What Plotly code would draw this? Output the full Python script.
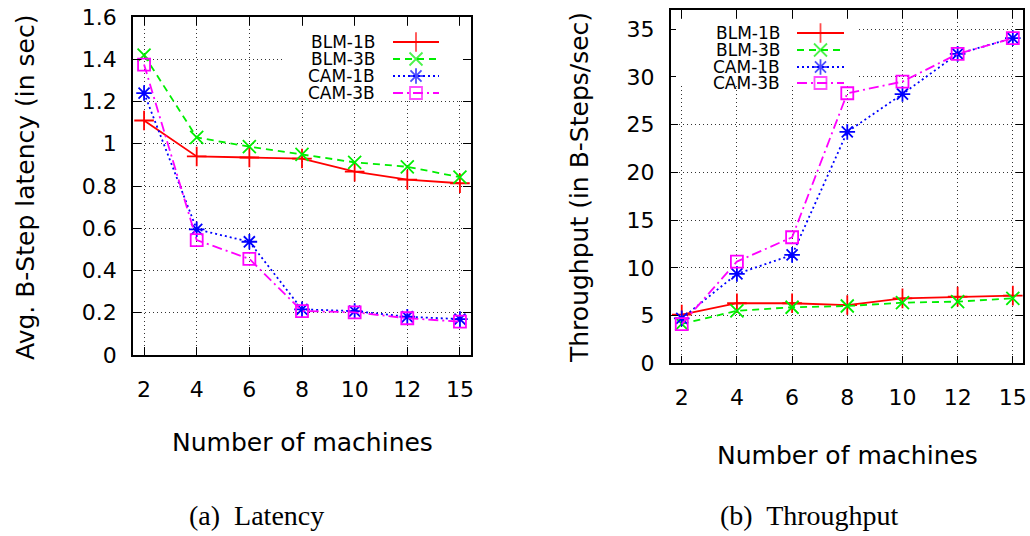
import plotly.graph_objects as go

# ---------------- data ----------------
machines = ["2", "4", "6", "8", "10", "12", "15"]
series_names = ["BLM-1B", "BLM-3B", "CAM-1B", "CAM-3B"]

latency_blm_1b = [1.11, 0.94, 0.935, 0.93, 0.868, 0.83, 0.813]
latency_blm_3b = [1.42, 1.03, 0.986, 0.95, 0.912, 0.891, 0.842]
latency_cam_1b = [1.24, 0.595, 0.536, 0.216, 0.208, 0.181, 0.170]
latency_cam_3b = [1.375, 0.544, 0.455, 0.208, 0.202, 0.174, 0.158]

thr_blm_1b = [5.1, 6.29, 6.29, 6.1, 6.8, 6.98, 7.09]
thr_blm_3b = [4.12, 5.5, 5.87, 6.0, 6.35, 6.46, 6.81]
thr_cam_1b = [4.7, 9.36, 11.35, 24.24, 28.2, 32.4, 34.05]
thr_cam_3b = [4.1, 10.65, 13.2, 28.28, 29.5, 32.4, 34.05]

latency_ticks = [0, 0.2, 0.4, 0.6, 0.8, 1, 1.2, 1.4, 1.6]
throughput_ticks = [0, 5, 10, 15, 20, 25, 30, 35]

# ---------------- styles ----------------
W, H = 1030, 536
FONT = "DejaVu Sans"
colors = ["#ff0000", "#00ee00", "#0000ff", "#ff00ff"]
dashes = ["solid", "7px,5px", "2px,3px", "10px,4px,2px,4px"]
symbols = ["cross-thin-open", "x-thin-open", "asterisk-open", "square-open"]
msizes = [14, 13, 13, 12]
LW = 1.8


def px(x):
    return x / W


def py(y):
    return 1 - y / H


fig = go.Figure()

lat_series = [latency_blm_1b, latency_blm_3b, latency_cam_1b, latency_cam_3b]
thr_series = [thr_blm_1b, thr_blm_3b, thr_cam_1b, thr_cam_3b]

for i, name in enumerate(series_names):
    style = dict(
        mode="lines+markers",
        line=dict(color=colors[i], width=LW, dash=dashes[i]),
        marker=dict(symbol=symbols[i], size=msizes[i], color=colors[i],
                    line=dict(color=colors[i], width=LW)),
        showlegend=False,
        name=name,
    )
    fig.add_trace(go.Scatter(x=machines, y=lat_series[i], xaxis="x", yaxis="y", **style))
    fig.add_trace(go.Scatter(x=machines, y=thr_series[i], xaxis="x2", yaxis="y2", **style))

# ---------------- custom gnuplot-style keys (pixel overlay subplot) ----------------
key_boxes = [(282, 26, 462, 101), (676, 21, 858, 86)]
key_text_right = [377, 782]
key_line = [(393, 439), (797, 844)]
key_rows = [[42, 59, 76, 93], [33, 50, 67, 83]]

for k in range(2):
    x0, y0, x1, y1 = key_boxes[k]
    fig.add_trace(go.Scatter(
        x=[x0, x1, x1, x0, x0], y=[y0, y0, y1, y1, y0], xaxis="x3", yaxis="y3",
        mode="lines", fill="toself", fillcolor="white", line=dict(width=0, color="white"),
        hoverinfo="skip", showlegend=False))
    la, lb = key_line[k]
    for i, name in enumerate(series_names):
        yy = key_rows[k][i]
        fig.add_trace(go.Scatter(
            x=[la, (la + lb) / 2, lb], y=[yy, yy, yy], xaxis="x3", yaxis="y3",
            mode="lines+markers",
            line=dict(color=colors[i], width=LW, dash=dashes[i]),
            marker=dict(symbol=symbols[i], size=[0, msizes[i], 0], color=colors[i],
                        line=dict(color=colors[i], width=LW)),
            hoverinfo="skip", showlegend=False))
        fig.add_annotation(x=px(key_text_right[k]), y=py(yy), xref="paper", yref="paper",
                           text=name, showarrow=False, xanchor="right", yanchor="middle",
                           font=dict(family=FONT, size=17, color="black"))

# ---------------- axes ----------------
axis_common = dict(
    showline=True, linecolor="black", linewidth=1.5, mirror="allticks",
    ticks="inside", ticklen=8, tickwidth=1.3, tickcolor="black",
    showgrid=True, gridcolor="#333333", gridwidth=1, griddash="1px,3px",
    zeroline=False, tickfont=dict(family=FONT, size=22, color="black"),
    fixedrange=True,
)

fig.update_layout(
    width=W, height=H, autosize=False,
    margin=dict(l=0, r=0, t=0, b=0, pad=0, autoexpand=False),
    paper_bgcolor="white", plot_bgcolor="rgba(0,0,0,0)",
    showlegend=False,
    xaxis=dict(domain=[px(133), px(471)], anchor="y", type="category",
               range=[-0.21, 6.21], ticklabelstandoff=14, **axis_common),
    yaxis=dict(domain=[py(355), py(17)], anchor="x", range=[0, 1.6],
               tickvals=latency_ticks, ticktext=[f"{v:g}" for v in latency_ticks],
               ticklabelstandoff=10, **axis_common),
    xaxis2=dict(domain=[px(670.7), px(1023.3)], anchor="y2", type="category",
                range=[-0.2, 6.19], ticklabelstandoff=14, **axis_common),
    yaxis2=dict(domain=[py(363.3), py(10)], anchor="x2", range=[0, 37],
                tickvals=throughput_ticks, ticklabelstandoff=10, **axis_common),
    xaxis3=dict(domain=[0, 1], anchor="y3", range=[0, W], visible=False, fixedrange=True),
    yaxis3=dict(domain=[0, 1], anchor="x3", range=[H, 0], visible=False, fixedrange=True),
)

# ---------------- titles & captions ----------------
title_font = dict(family=FONT, size=25, color="black")
fig.add_annotation(x=px(302), y=py(442), xref="paper", yref="paper", text="Number of machines",
                   showarrow=False, xanchor="center", yanchor="middle", font=title_font)
fig.add_annotation(x=px(847), y=py(455), xref="paper", yref="paper", text="Number of machines",
                   showarrow=False, xanchor="center", yanchor="middle", font=title_font)
fig.add_annotation(x=px(25), y=py(188), xref="paper", yref="paper",
                   text="Avg. B-Step latency (in sec)", textangle=-90,
                   showarrow=False, xanchor="center", yanchor="middle", font=title_font)
fig.add_annotation(x=px(579), y=py(188), xref="paper", yref="paper",
                   text="Throughput (in B-Steps/sec)", textangle=-90,
                   showarrow=False, xanchor="center", yanchor="middle", font=title_font)

cap_font = dict(family="Liberation Serif", size=28, color="black")
fig.add_annotation(x=px(256), y=py(515), xref="paper", yref="paper", text="(a)  Latency",
                   showarrow=False, xanchor="center", yanchor="middle", font=cap_font)
fig.add_annotation(x=px(809), y=py(515), xref="paper", yref="paper", text="(b)  Throughput",
                   showarrow=False, xanchor="center", yanchor="middle", font=cap_font)

fig.write_html(
    "out.html",
    config={"displayModeBar": False},
    post_script="document.body.style.margin='0';document.body.style.overflow='hidden';",
)
